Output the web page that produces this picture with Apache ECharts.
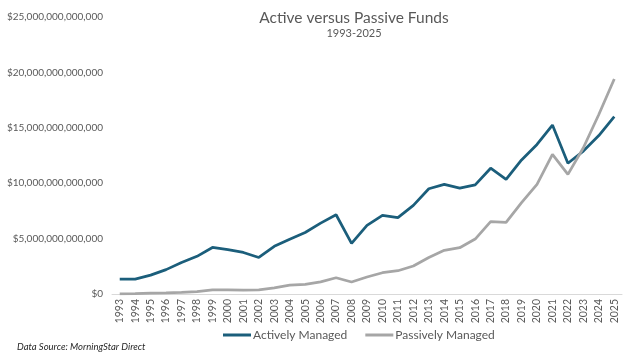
<!DOCTYPE html>
<html>
<head>
<meta charset="utf-8">
<script src="https://cdn.jsdelivr.net/npm/echarts@6/dist/echarts.min.js"></script>
<style>
  html, body { margin: 0; padding: 0; background: #fff; }
  #chart { width: 624px; height: 353px; }
</style>
</head>
<body>
<div id="chart"></div>
<script>
// years on the x axis
const years = ['1993','1994','1995','1996','1997','1998','1999','2000','2001','2002','2003',
  '2004','2005','2006','2007','2008','2009','2010','2011','2012','2013','2014','2015',
  '2016','2017','2018','2019','2020','2021','2022','2023','2024','2025']

// assets in trillions of dollars
const activeTrillions = [1.35, 1.35, 1.7, 2.2, 2.85, 3.4, 4.2, 4.0, 3.75, 3.3, 4.3,
  4.95, 5.55, 6.4, 7.15, 4.57, 6.2, 7.1, 6.9, 8.0, 9.5, 9.9, 9.55, 9.85, 11.35,
  10.35, 12.1, 13.5, 15.25, 11.8, 12.9, 14.3, 16.0]
const passiveTrillions = [0.02, 0.03, 0.07, 0.1, 0.15, 0.22, 0.37, 0.37, 0.36, 0.37, 0.55,
  0.8, 0.87, 1.1, 1.47, 1.08, 1.53, 1.92, 2.1, 2.53, 3.3, 3.94, 4.18, 4.96, 6.53,
  6.47, 8.24, 9.9, 12.6, 10.8, 13.2, 16.2, 19.4]

const chart = echarts.init(document.getElementById('chart'))

const option = {
    animation: false,
    textStyle: { fontFamily: 'Lato' },
    title: {
        text: 'Active versus Passive Funds',
        subtext: '1993-2025',
        left: 349,
        textAlign: 'center',
        top: 5,
        itemGap: 2,
        textStyle: { fontSize: 15.5, fontWeight: 'normal', color: '#595959', fontFamily: 'Lato' },
        subtextStyle: { fontSize: 11, color: '#595959', fontFamily: 'Lato' }
    },
    legend: {
        bottom: 7,
        left: 218,
        icon: 'rect',
        itemWidth: 28,
        itemHeight: 3,
        itemGap: 18,
        textStyle: { fontSize: 12, color: '#595959', padding: [0, 0, 0, -3] },
        data: ['Actively Managed', 'Passively Managed']
    },
    grid: {
        top: 17,
        left: 112,
        right: 2,
        bottom: 59
    },
    xAxis: {
        type: 'category',
        data: years,
        axisLine: { lineStyle: { color: '#d9d9d9' } },
        axisTick: { show: false },
        axisLabel: { rotate: 90, fontSize: 10.5, color: '#595959', margin: 5, interval: 0 }
    },
    yAxis: {
        type: 'value',
        min: 0,
        max: 25e12,
        interval: 5e12,
        splitLine: { show: false },
        axisLine: { show: false },
        axisTick: { show: false },
        axisLabel: {
            fontSize: 10,
            color: '#595959',
            margin: 9,
            formatter: v => '$' + v.toLocaleString('en-US')
        }
    },
    graphic: [
        {
            type: 'text',
            left: 17,
            top: 342,
            style: {
                text: 'Data Source: MorningStar Direct',
                font: 'italic 9.5px Lato',
                fill: '#262626'
            }
        }
    ],
    series: [
        {
            name: 'Actively Managed',
            type: 'line',
            data: activeTrillions.map(v => v * 1e12),
            showSymbol: false,
            lineStyle: { width: 2.75, color: '#1B5E7B' },
            itemStyle: { color: '#1B5E7B' }
        },
        {
            name: 'Passively Managed',
            type: 'line',
            data: passiveTrillions.map(v => v * 1e12),
            showSymbol: false,
            lineStyle: { width: 2.75, color: '#A6A6A6' },
            itemStyle: { color: '#A6A6A6' }
        }
    ]
}

chart.setOption(option)
</script>
</body>
</html>
